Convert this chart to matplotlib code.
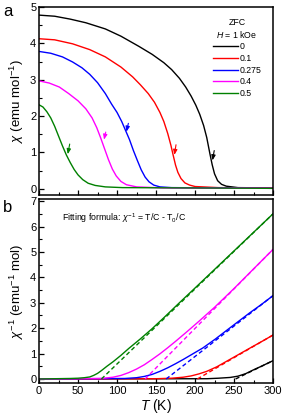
import matplotlib
matplotlib.use("Agg")
import matplotlib.pyplot as plt
from matplotlib.ticker import MultipleLocator

plt.rcParams['font.family'] = ['Liberation Sans', 'DejaVu Sans']
plt.rcParams['mathtext.fontset'] = 'custom'
plt.rcParams['mathtext.rm'] = 'Liberation Sans'
plt.rcParams['mathtext.it'] = 'Liberation Sans:italic'

labels = ["0", "0.1", "0.275", "0.4", "0.5"]
colors = ["black", "#ff0000", "#0000ff", "#ff00ff", "#008000"]

# (a) ZFC susceptibility chi(T)
chi_T = [
  [0, 20, 40, 60, 85, 105, 128, 145, 160, 170, 180, 188, 195, 201, 206, 211, 215, 219, 222, 225, 229, 234, 240, 255, 300],
  [0, 20, 43, 65, 85, 105, 120, 130, 140, 148, 155, 160, 165, 169, 172, 175, 178, 182, 187, 193, 200, 230, 300],
  [0, 15, 30, 43, 55, 65, 75, 85, 93, 100, 106, 111, 116, 121, 126, 131, 136, 141, 147, 155, 170, 300],
  [0, 13, 26, 38, 50, 60, 68, 74, 79, 84, 89, 94, 99, 105, 112, 125, 160, 300],
  [0, 5, 10, 15, 20, 25, 30, 35, 40, 45, 50, 56, 63, 72, 85, 107, 300],
]
chi_val = [
  [4.78, 4.75, 4.67, 4.57, 4.40, 4.20, 3.92, 3.70, 3.47, 3.28, 3.04, 2.80, 2.55, 2.30, 2.05, 1.74, 1.41, 0.97, 0.66, 0.41, 0.22, 0.12, 0.07, 0.03, 0.02],
  [4.13, 4.10, 3.99, 3.83, 3.63, 3.35, 3.08, 2.86, 2.62, 2.38, 2.10, 1.85, 1.52, 1.20, 0.92, 0.65, 0.45, 0.28, 0.16, 0.10, 0.06, 0.03, 0.02],
  [3.78, 3.73, 3.63, 3.49, 3.33, 3.15, 2.92, 2.62, 2.33, 2.10, 1.85, 1.60, 1.35, 1.05, 0.78, 0.52, 0.32, 0.19, 0.10, 0.05, 0.03, 0.01],
  [2.97, 2.91, 2.80, 2.62, 2.42, 2.20, 1.95, 1.68, 1.40, 1.10, 0.80, 0.54, 0.35, 0.20, 0.11, 0.05, 0.02, 0.01],
  [2.31, 2.25, 2.12, 1.95, 1.72, 1.45, 1.18, 0.93, 0.72, 0.53, 0.38, 0.25, 0.15, 0.09, 0.05, 0.03, 0.01],
]
arrow_tail = [(224.6, 1.05), (175.6, 1.21), (114.5, 1.80), (85.5, 1.56), (39.3, 1.23)]
arrow_tip = [(222.4, 0.78), (173.5, 0.93), (112.0, 1.57), (83.3, 1.35), (36.8, 0.95)]

# (b) inverse susceptibility and Curie-Weiss fits
inv_T = [
  [0, 215, 230, 245, 255, 265, 275, 285, 300],
  [0, 150, 170, 185, 195, 205, 215, 228, 243, 258, 273, 287, 300],
  [0, 110, 125, 135, 145, 155, 165, 175, 185, 195, 210, 226, 240, 255, 270, 285, 300],
  [0, 80, 95, 105, 115, 125, 135, 145, 155, 165, 175, 190, 205, 225, 250, 275, 300],
  [0, 40, 50, 58, 65, 70, 75, 80, 87, 95, 105, 115, 130, 145, 160, 180, 200, 225, 250, 275, 300],
]
inv_val = [
  [0, 0.01, 0.03, 0.06, 0.11, 0.21, 0.36, 0.50, 0.72],
  [0, 0.01, 0.03, 0.07, 0.12, 0.20, 0.30, 0.48, 0.74, 1.00, 1.26, 1.50, 1.73],
  [0, 0.02, 0.05, 0.10, 0.18, 0.30, 0.44, 0.60, 0.77, 0.95, 1.22, 1.57, 1.90, 2.25, 2.60, 2.93, 3.28],
  [0, 0.02, 0.07, 0.14, 0.25, 0.39, 0.56, 0.77, 0.99, 1.23, 1.48, 1.87, 2.27, 2.82, 3.56, 4.33, 5.10],
  [0, 0.02, 0.03, 0.05, 0.08, 0.14, 0.22, 0.33, 0.50, 0.68, 0.93, 1.20, 1.58, 1.98, 2.41, 3.00, 3.58, 4.31, 5.04, 5.77, 6.50],
]
fit_T0 = [252, 203, 163, 136, 80]
fit_end = [0.72, 1.73, 3.28, 5.10, 6.50]

fig = plt.figure(figsize=(2.85, 4.2), dpi=100)
ax_a = fig.add_axes([0.137, 0.536, 0.821, 0.447])
ax_b = fig.add_axes([0.137, 0.088, 0.821, 0.438])

for ax in (ax_a, ax_b):
  ax.set_xlim(0, 300)
  ax.xaxis.set_major_locator(MultipleLocator(50))
  ax.xaxis.set_minor_locator(MultipleLocator(25))
  ax.yaxis.set_major_locator(MultipleLocator(1))
  ax.yaxis.set_minor_locator(MultipleLocator(0.5))
  ax.tick_params(which='both', direction='in', top=False, right=False, labelsize=8, pad=2)
  ax.tick_params(which='major', length=3.5, width=0.9)
  ax.tick_params(which='minor', length=2, width=0.8)
  for s in ax.spines.values():
    s.set_linewidth(1.1)

# panel a
for T, c, col, lab in zip(chi_T, chi_val, colors, labels):
  ax_a.plot(T, c, color=col, lw=1.0, label=lab)
for (tx, ty), (hx, hy), col in zip(arrow_tail, arrow_tip, colors):
  ax_a.annotate("", xy=(hx, hy), xytext=(tx, ty),
                arrowprops=dict(arrowstyle="-|>,head_length=0.3,head_width=0.12",
                                color=col, lw=0.8, shrinkA=0, shrinkB=0))
ax_a.set_ylim(-0.17, 5)
ax_a.tick_params(labelbottom=False)
ax_a.set_ylabel(r"$\chi$ (emu mol$^{-1}$)", fontsize=9.5, labelpad=3)
leg = ax_a.legend(title="ZFC\n$H$ = 1 kOe", loc="upper right", bbox_to_anchor=(0.975, 0.975),
                  frameon=False, fontsize=6.3, title_fontsize=6.3, handlelength=2.9,
                  handletextpad=0.1, labelspacing=0.3, borderaxespad=0.3)
leg.get_title().set_multialignment('center')

# panel b
for T, v, col in zip(inv_T, inv_val, colors):
  ax_b.plot(T, v, color=col, lw=1.0)
for t0, end, col in zip(fit_T0, fit_end, colors):
  ax_b.plot([t0, 300], [0, end], color=col, lw=1.0, ls=(0, (3, 2)))
ax_b.set_ylim(-0.16, 7.08)
ax_b.set_xlabel(r"$T$ (K)", fontsize=10, labelpad=1)
ax_b.set_ylabel(r"$\chi^{-1}$ (emu$^{-1}$ mol)", fontsize=9.5, labelpad=3)
ax_b.text(0.10, 0.897, r"Fitting formula: $\chi^{-1}$ = T/C - T$_0$/C",
          transform=ax_b.transAxes, fontsize=6.3, va='center')

fig.text(0.028, 0.972, "a", fontsize=12, va='center', ha='center')
fig.text(0.028, 0.505, "b", fontsize=12, va='center', ha='center')

fig.savefig("out.png", dpi=100)
